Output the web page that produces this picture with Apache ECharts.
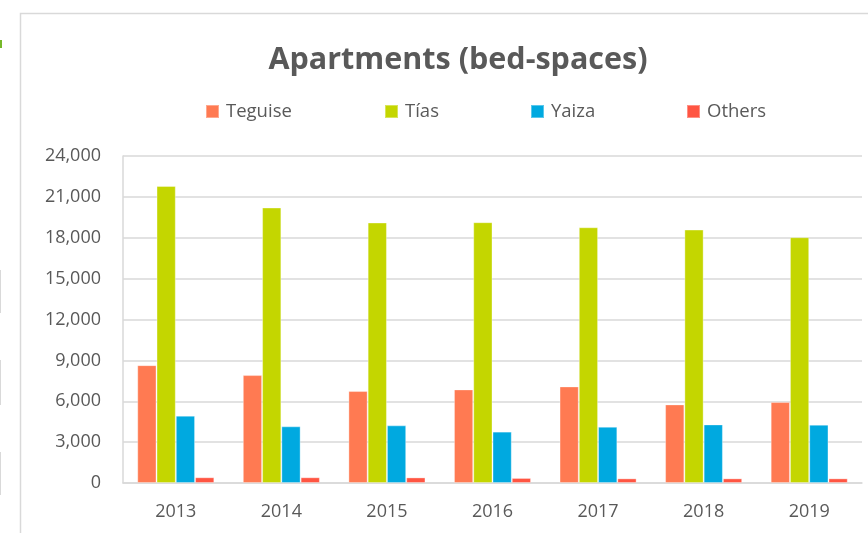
<!DOCTYPE html>
<html>
<head>
<meta charset="utf-8">
<script src="https://cdn.jsdelivr.net/npm/echarts@6/dist/echarts.min.js"></script>
<style>
html,body{margin:0;padding:0;background:#fff;}
#chart{width:868px;height:533px;}
</style>
</head>
<body>
<div id="chart"></div>
<script>
const years = ['2013','2014','2015','2016','2017','2018','2019'];
const seriesNames = ['Teguise','Tías','Yaiza','Others'];
const teguise = [8650, 7920, 6750, 6870, 7090, 5770, 5940];
const tias = [21800, 20220, 19120, 19140, 18770, 18600, 18040];
const yaiza = [4940, 4160, 4230, 3770, 4130, 4300, 4280];
const others = [420, 420, 410, 370, 340, 340, 340];
const yTicks = [0, 3000, 6000, 9000, 12000, 15000, 18000, 21000, 24000];

const colors = ['#FF7A52', '#C4D600', '#00A9E0', '#FF5542'];
const values = [teguise, tias, yaiza, others];
const legendLefts = [205, 384, 530, 686];
const txt = '#595959';
const font = '"Open Sans", sans-serif';

const chart = echarts.init(document.getElementById('chart'), null, {renderer: 'canvas'});
chart.setOption({
  animation: false,
  backgroundColor: '#fff',
  title: {
    text: 'Apartments (bed-spaces)',
    left: 458, top: 45, textAlign: 'center', padding: 0,
    textStyle: {fontFamily: font, fontWeight: 'bold', fontSize: 30.5, color: txt}
  },
  legend: seriesNames.map((n, i) => ({
    data: [n], left: legendLefts[i], top: 102, padding: 0,
    icon: 'rect', itemWidth: 13, itemHeight: 13, itemGap: 0,
    textStyle: {fontFamily: font, fontSize: 18.5, color: txt, padding: [0, 0, 0, 2]}
  })),
  grid: {left: 123, right: 6, top: 156, bottom: 50, containLabel: false},
  xAxis: {
    type: 'category', data: years,
    axisLine: {lineStyle: {color: '#d9d9d9', width: 1.5}},
    axisTick: {show: false},
    axisLabel: {fontFamily: font, fontSize: 18, color: txt, margin: 20}
  },
  yAxis: {
    type: 'value', min: yTicks[0], max: yTicks[yTicks.length - 1], interval: 3000,
    axisLine: {show: true, lineStyle: {color: '#d9d9d9', width: 1.5}},
    axisTick: {show: false},
    splitLine: {lineStyle: {color: '#d9d9d9', width: 1.5}},
    axisLabel: {fontFamily: font, fontSize: 18, color: txt, margin: 22,
      formatter: v => v.toLocaleString('en-US')}
  },
  series: seriesNames.map((n, i) => ({
    name: n, type: 'bar', data: values[i],
    barGap: '0%', barCategoryGap: '27%',
    itemStyle: {color: colors[i], borderColor: 'rgba(255,255,255,0.35)', borderWidth: 1}
  })),
  graphic: [
    {type: 'rect', shape: {x: 20.5, y: 13.5, width: 900, height: 600}, style: {fill: 'none', stroke: '#d9d9d9', lineWidth: 1.5}, silent: true},
    {type: 'rect', shape: {x: 0, y: 40, width: 2, height: 8}, style: {fill: '#76B82A'}, silent: true},
    {type: 'rect', shape: {x: 0, y: 270, width: 1, height: 43}, style: {fill: '#d9d9d9'}, silent: true},
    {type: 'rect', shape: {x: 0, y: 360, width: 1, height: 45}, style: {fill: '#d9d9d9'}, silent: true},
    {type: 'rect', shape: {x: 0, y: 452, width: 1, height: 43}, style: {fill: '#d9d9d9'}, silent: true}
  ]
});
</script>
</body>
</html>
